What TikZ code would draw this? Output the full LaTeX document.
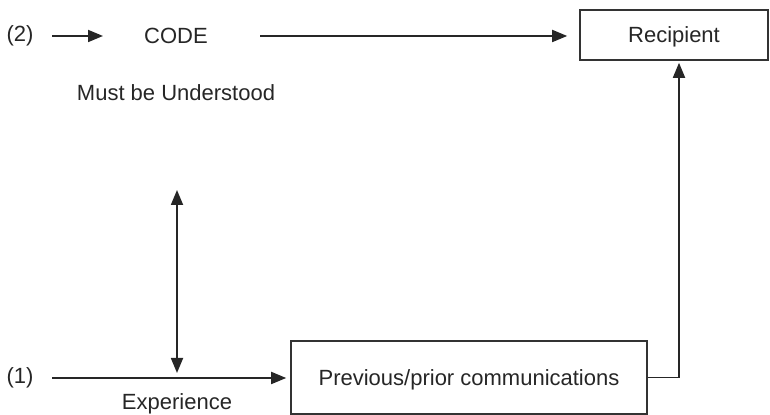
\documentclass[tikz,border=0pt]{standalone}
\usepackage{fontspec}
\setmainfont{Liberation Sans}
\usetikzlibrary{arrows.meta}

\begin{document}
\begin{tikzpicture}[x=0.5pt, y=-0.5pt,
    every node/.style={font=\fontsize{11}{13}\selectfont, text=black!85},
    box/.style={draw=black!80, line width=0.8pt, inner sep=0pt, text depth=0pt},
    arr/.style={draw=black!85, line width=0.9pt, -{Triangle[length=7.5pt,width=6pt]}},
    dblarr/.style={draw=black!85, line width=0.9pt, {Triangle[length=7.5pt,width=6pt]}-{Triangle[length=7.5pt,width=6pt]}}]
    \useasboundingbox (0,0) rectangle (770,415);

    % top row: code to recipient
    \node (two) at (20,36) {(2)};
    \node (code) at (176,36) {CODE};
    \node (under) at (176,93) {Must be Understood};
    \node[box, minimum width=94pt, minimum height=25pt] (recip) at (674,35) {Recipient};

    % bottom row: experience to previous communications
    \node (one) at (20,378) {(1)};
    \node (exper) at (177,404) {Experience};
    \node[box, minimum width=178pt, minimum height=36.5pt] (prev) at (469,377.5) {Previous/prior communications};

    \coordinate (twoA) at (52,36);
    \coordinate (twoB) at (103,36);
    \coordinate (codeA) at (260,36);
    \coordinate (oneA) at (52,378);
    \coordinate (upper) at (177,190);
    \coordinate (lower) at (177,373);

    \draw[arr] (twoA) -- (twoB);
    \draw[arr, shorten >=6pt] (codeA) -- (recip.west |- codeA);
    \draw[arr, shorten >=2pt] (oneA) -- (prev.west |- oneA);
    \draw[dblarr] (upper) -- (lower);
    \draw[arr, shorten >=1pt] (prev.east) -| ([xshift=2.5pt]recip.south);
\end{tikzpicture}
\end{document}
